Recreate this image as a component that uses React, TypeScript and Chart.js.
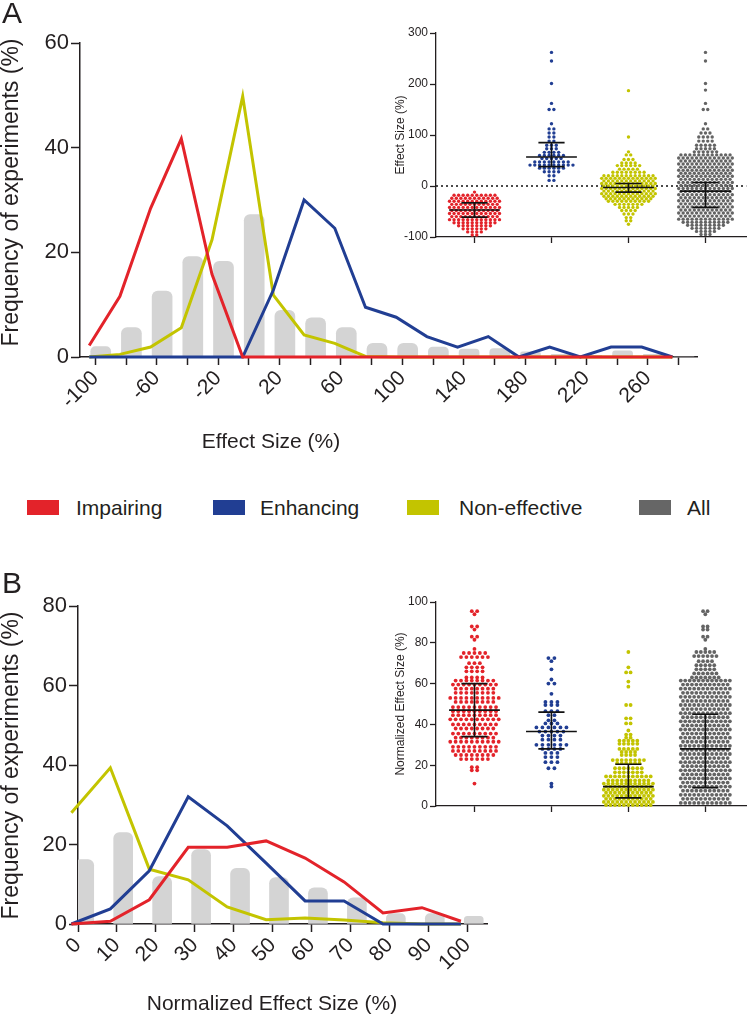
import React, { useEffect, useRef } from "react";
import { Chart, registerables } from "chart.js";

Chart.register(...registerables);

const FONT = "'Liberation Sans', Arial, Helvetica, sans-serif";
const TEXT = "#231f20";
const RED = "#e3232a";
const BLUE = "#213e93";
const YELLOW = "#c3c400";
const GREY_DOT = "#646464";
const GREY_BAR = "#d4d4d4";
const GREY_LEGEND = "#666666";

// ---------- Panel A : histogram of effect size ----------
const binsA = [-100, -80, -60, -40, -20, 0, 20, 40, 60, 80, 100, 120, 140, 160, 180, 200, 220, 240, 260, 280];
const impairingA = [2.2, 11.6, 28.4, 41.7, 15.8, 0, 0, 0, 0, 0, 0, 0, 0, 0, 0, 0, 0, 0, 0, 0];
const enhancingA = [0, 0, 0, 0, 0, 0, 12.8, 30.0, 24.6, 9.5, 7.6, 3.9, 1.9, 3.9, 0, 1.9, 0, 1.9, 1.9, 0];
const nonEffectiveA = [0, 0.5, 1.9, 5.6, 22.4, 49.8, 11.8, 4.2, 2.6, 0.1, 0, 0, 0, 0, 0, 0, 0, 0, 0, 0];
const allA = [2.0, 5.6, 12.6, 19.2, 18.3, 27.2, 8.9, 7.5, 5.6, 2.6, 2.6, 1.9, 1.5, 1.6, 1.0, 0.5, 0.3, 1.2, 0.5, 0];
const xTickLabelsA = [-100, -60, -20, 20, 60, 100, 140, 180, 220, 260];
const yTicksA = [0, 20, 40, 60];

// ---------- Panel B : histogram of normalized effect size ----------
const binsB = [0, 10, 20, 30, 40, 50, 60, 70, 80, 90, 100];
const impairingB = [0, 0.7, 6.1, 19.3, 19.3, 20.9, 16.6, 10.6, 2.8, 4.1, 0.7];
const enhancingB = [0, 3.8, 13.4, 32.0, 24.7, 15.3, 5.8, 5.8, 0, 0, 0];
const nonEffectiveB = [28.0, 39.3, 13.8, 11.1, 4.3, 1.1, 1.5, 1.0, 0.3, 0, 0];
const allB = [16.2, 23.0, 11.9, 18.7, 14.0, 11.7, 9.1, 6.6, 2.6, 2.6, 1.9];
const xTickLabelsB = [0, 10, 20, 30, 40, 50, 60, 70, 80, 90, 100];
const yTicksB = [0, 20, 40, 60, 80];

// ---------- Inset A : effect size per experiment (rows of the swarm: level, count) ----------
const impInsetA_levels = [-12, -18, -24, -30, -36, -42, -48, -54, -60, -66, -72, -78, -84, -90, -96];
const impInsetA_counts = [1, 10, 11, 12, 11, 12, 11, 12, 11, 12, 10, 8, 6, 4, 2];
const enhInsetA_levels = [262, 245, 201, 162, 150, 122, 112, 104, 96, 88, 80, 73, 66, 60, 54, 47, 41, 35, 28, 20, 11];
const enhInsetA_counts = [1, 1, 1, 1, 2, 1, 2, 2, 2, 2, 3, 3, 4, 6, 5, 8, 10, 6, 4, 2, 2];
const nonInsetA_levels = [187, 96, 67, 61, 52, 45, 40, 33, 27, 20, 15, 10, 5, 0, -5, -10, -15, -20, -25, -30, -36, -42, -48, -55, -62, -68, -75];
const nonInsetA_counts = [1, 1, 1, 2, 3, 4, 6, 5, 8, 12, 13, 12, 13, 12, 13, 12, 13, 12, 11, 10, 7, 5, 4, 3, 2, 2, 1];
const allInsetA_levels = [262, 245, 201, 188, 162, 150, 122, 112, 104, 96, 88, 80, 73, 67, 61, 55, 49, 43, 37, 31, 25, 19, 13, 7, 1, -5, -11, -17, -23, -29, -35, -41, -47, -53, -59, -65, -71, -77, -83, -89, -95];
const allInsetA_counts = [1, 1, 1, 1, 1, 2, 1, 2, 3, 4, 4, 5, 5, 6, 12, 13, 12, 13, 12, 13, 12, 13, 12, 13, 12, 13, 12, 13, 12, 13, 12, 13, 12, 13, 12, 13, 11, 9, 7, 5, 3];
const medianInsetA = [-47, 57, -3, -10];
const q1InsetA = [-61, 38, -12, -42];
const q3InsetA = [-33, 85, 5, 7];
const yTicksInsetA = [-100, 0, 100, 200, 300];

// ---------- Inset B : normalized effect size per experiment ----------
const impInsetB_levels = [95.5, 94, 88, 86.5, 83, 81.5, 77, 75, 73, 70, 68, 66, 63, 61.5, 59.5, 57.5, 55.5, 53, 51, 48.5, 46.5, 44.5, 42.5, 40, 38, 35.5, 33.5, 31.5, 29, 27, 25, 23, 19, 17.5, 11];
const impInsetB_counts = [2, 1, 2, 1, 2, 1, 1, 5, 6, 3, 4, 4, 4, 8, 9, 8, 8, 10, 8, 9, 9, 9, 10, 9, 8, 9, 8, 10, 9, 9, 8, 6, 2, 2, 1];
const enhInsetB_levels = [72.5, 71, 67, 62, 60, 55, 51, 49.5, 46.5, 44.5, 42, 40.5, 38.5, 36.5, 34.5, 32.5, 30, 28, 26, 24, 21.5, 18.5, 11, 9.5];
const enhInsetB_counts = [2, 1, 1, 1, 2, 1, 3, 3, 3, 2, 2, 3, 6, 5, 4, 4, 6, 4, 3, 3, 3, 2, 1, 1];
const nonInsetB_levels = [75.5, 68, 65.5, 61, 58.5, 49.5, 43, 40.5, 37, 35, 33.5, 32, 30.5, 28, 26.5, 25, 22.5, 21, 18.5, 16.5, 14.5, 12.5, 11, 9.5, 8, 6.5, 5, 3.5, 2, 0.5];
const nonInsetB_counts = [1, 1, 2, 1, 1, 2, 2, 2, 1, 2, 2, 5, 5, 5, 4, 4, 8, 6, 7, 7, 11, 10, 12, 11, 12, 11, 12, 11, 12, 11];
const allInsetB_levels = [95.5, 94, 88, 86.5, 83, 81.5, 77, 75.5, 73.5, 71, 69, 67, 65, 63, 61.5, 59.5, 57.5, 55.5, 53.5, 51.5, 49.5, 47.5, 45.5, 43.5, 41.5, 39.5, 37.5, 35.5, 33.5, 31.5, 29.5, 27.5, 25.5, 23.5, 21.5, 19.5, 17.5, 15.5, 13.5, 11.5, 9.5, 7.5, 5.5, 3.5, 1.5];
const allInsetB_counts = [2, 1, 2, 2, 2, 1, 1, 5, 6, 4, 5, 5, 6, 7, 12, 11, 12, 11, 12, 11, 12, 11, 12, 11, 12, 11, 12, 11, 12, 11, 12, 11, 12, 11, 12, 11, 12, 11, 12, 11, 12, 11, 12, 11, 12];
const medianInsetB = [47, 36.5, 9.5, 28];
const q1InsetB = [34, 28, 4, 9];
const q3InsetB = [60, 46, 20.5, 45];
const yTicksInsetB = [0, 20, 40, 60, 80, 100];

const groupColors = [RED, BLUE, YELLOW, GREY_DOT];
const legendItems = ["Impairing", "Enhancing", "Non-effective", "All"];
const legendColors = [RED, BLUE, YELLOW, GREY_LEGEND];

// swarm layout: spread each row of equal values horizontally around its category
function swarm(cat: number, levels: number[], counts: number[], dx: number) {
  const pts: { x: number; y: number }[] = [];
  levels.forEach((v, r) => {
    const n = counts[r];
    for (let k = 0; k < n; k++) pts.push({ x: cat + (k - (n - 1) / 2) * dx, y: v });
  });
  return pts;
}

const medianPlugin = (med: number[], q1: number[], q3: number[]) => ({
  id: "medianIQR",
  afterDatasetsDraw(chart: any) {
    const { ctx } = chart;
    const x = chart.scales.x;
    const y = chart.scales.y;
    ctx.save();
    ctx.strokeStyle = "#111";
    ctx.lineWidth = 1.6;
    med.forEach((m: number, i: number) => {
      const c = i + 1;
      const xc = x.getPixelForValue(c);
      const ml = x.getPixelForValue(c - 0.33);
      const mr = x.getPixelForValue(c + 0.33);
      const cl = x.getPixelForValue(c - 0.17);
      const cr = x.getPixelForValue(c + 0.17);
      const ym = y.getPixelForValue(m);
      const y1 = y.getPixelForValue(q1[i]);
      const y3 = y.getPixelForValue(q3[i]);
      ctx.beginPath();
      ctx.moveTo(ml, ym); ctx.lineTo(mr, ym);
      ctx.moveTo(cl, y1); ctx.lineTo(cr, y1);
      ctx.moveTo(cl, y3); ctx.lineTo(cr, y3);
      ctx.moveTo(xc, y1); ctx.lineTo(xc, y3);
      ctx.stroke();
    });
    ctx.restore();
  },
});

const zeroLinePlugin = {
  id: "zeroLine",
  beforeDatasetsDraw(chart: any) {
    const { ctx, chartArea } = chart;
    const yy = chart.scales.y.getPixelForValue(0);
    ctx.save();
    ctx.strokeStyle = "#111";
    ctx.lineWidth = 1.5;
    ctx.setLineDash([2, 3]);
    ctx.beginPath();
    ctx.moveTo(chartArea.left, yy);
    ctx.lineTo(chartArea.right, yy);
    ctx.stroke();
    ctx.restore();
  },
};

type HistProps = {
  top: number; width: number; height: number;
  bins: number[]; imp: number[]; enh: number[]; non: number[]; all: number[];
  xMin: number; xMax: number; yMax: number; xLabels: number[]; yTicks: number[];
  lineShift: number; barShift: number; barWidth: number;
  padTop: number; padRight: number; yAxisWidth: number; xAxisHeight: number;
};

function Histogram(p: HistProps) {
  const ref = useRef<HTMLCanvasElement>(null);
  useEffect(() => {
    const line = (vals: number[], color: string, order: number, label: string) => ({
      type: "line" as const,
      label,
      data: p.bins.map((b, i) => ({ x: b + p.lineShift, y: vals[i] })),
      borderColor: color,
      borderWidth: 3,
      pointRadius: 0,
      tension: 0,
      clip: false,
      order,
    });
    const chart = new Chart(ref.current!, {
      type: "line",
      data: {
        datasets: [
          line(p.imp, RED, 1, "Impairing"),
          line(p.enh, BLUE, 2, "Enhancing"),
          line(p.non, YELLOW, 3, "Non-effective"),
          {
            type: "bar" as const,
            label: "All",
            data: p.bins.map((b, i) => ({ x: b + p.barShift, y: p.all[i] })),
            backgroundColor: GREY_BAR,
            barThickness: p.barWidth,
            borderRadius: { topLeft: 6, topRight: 6, bottomLeft: 0, bottomRight: 0 },
            borderSkipped: false,
            order: 10,
          } as any,
        ],
      },
      options: {
        responsive: false,
        animation: false,
        devicePixelRatio: 1,
        events: [],
        layout: { padding: { top: p.padTop, right: p.padRight, left: 0, bottom: 0 } },
        plugins: { legend: { display: false }, tooltip: { enabled: false } },
        scales: {
          x: {
            type: "linear",
            min: p.xMin,
            max: p.xMax,
            offset: false,
            afterBuildTicks: (s: any) => { s.ticks = p.bins.map((v) => ({ value: v })); },
            afterFit: (s: any) => { s.height = p.xAxisHeight; },
            ticks: {
              autoSkip: false,
              minRotation: 45,
              maxRotation: 45,
              padding: 1,
              color: TEXT,
              font: { family: FONT, size: 21 },
              callback: (v: any) => (p.xLabels.includes(Number(v)) ? String(v) : ""),
            },
            grid: { display: true, drawOnChartArea: false, drawTicks: true, tickLength: 8, tickWidth: 1.5, tickColor: TEXT, offset: false },
            border: { display: true, color: TEXT, width: 1.5 },
          },
          y: {
            type: "linear",
            min: 0,
            max: p.yMax,
            afterBuildTicks: (s: any) => { s.ticks = p.yTicks.map((v) => ({ value: v })); },
            afterFit: (s: any) => { s.width = p.yAxisWidth; },
            ticks: { padding: 2, color: TEXT, font: { family: FONT, size: 22 } },
            grid: { display: true, drawOnChartArea: false, drawTicks: true, tickLength: 9, tickWidth: 1.5, tickColor: TEXT },
            border: { display: true, color: TEXT, width: 1.5 },
          },
        },
      } as any,
    });
    return () => chart.destroy();
  }, []);
  return (
    <canvas
      ref={ref}
      width={p.width}
      height={p.height}
      style={{ position: "absolute", left: 0, top: p.top, width: p.width, height: p.height }}
    />
  );
}

type SwarmProps = {
  left: number; top: number; width: number; height: number;
  groups: { levels: number[]; counts: number[]; dx: number }[];
  med: number[]; q1: number[]; q3: number[]; radius: number;
  yMin: number; yMax: number; yTicks: number[]; title: string; zeroLine: boolean; padTop: number;
};

function Swarm(p: SwarmProps) {
  const ref = useRef<HTMLCanvasElement>(null);
  useEffect(() => {
    const plugins: any[] = [medianPlugin(p.med, p.q1, p.q3)];
    if (p.zeroLine) plugins.unshift(zeroLinePlugin);
    const chart = new Chart(ref.current!, {
      type: "scatter",
      data: {
        datasets: p.groups.map((g, i) => ({
          label: legendItems[i],
          data: swarm(i + 1, g.levels, g.counts, g.dx),
          backgroundColor: groupColors[i],
          pointBackgroundColor: groupColors[i],
          pointRadius: p.radius,
          pointBorderWidth: 0,
          pointHoverRadius: 0,
          clip: false,
        })),
      },
      options: {
        responsive: false,
        animation: false,
        devicePixelRatio: 1,
        events: [],
        layout: { padding: { top: p.padTop, right: 0, left: 0, bottom: 0 } },
        plugins: { legend: { display: false }, tooltip: { enabled: false } },
        scales: {
          x: {
            type: "linear",
            min: 0.5,
            max: 4.53,
            afterBuildTicks: (s: any) => { s.ticks = [1, 2, 3, 4].map((v) => ({ value: v })); },
            afterFit: (s: any) => { s.height = 10; },
            ticks: { display: false },
            grid: { display: true, drawOnChartArea: false, drawTicks: true, tickLength: 6, tickWidth: 1.3, tickColor: TEXT },
            border: { display: true, color: TEXT, width: 1.3 },
          },
          y: {
            type: "linear",
            min: p.yMin,
            max: p.yMax,
            afterBuildTicks: (s: any) => { s.ticks = p.yTicks.map((v) => ({ value: v })); },
            afterFit: (s: any) => { s.width = 76; },
            ticks: { padding: 2, color: TEXT, font: { family: FONT, size: 12 } },
            grid: { display: true, drawOnChartArea: false, drawTicks: true, tickLength: 6, tickWidth: 1.3, tickColor: TEXT },
            border: { display: true, color: TEXT, width: 1.3 },
            title: {
              display: true,
              text: p.title,
              color: TEXT,
              font: { family: FONT, size: 12 },
              padding: { top: 33, bottom: 0 },
            },
          },
        },
      } as any,
      plugins,
    });
    return () => chart.destroy();
  }, []);
  return (
    <canvas
      ref={ref}
      width={p.width}
      height={p.height}
      style={{ position: "absolute", left: p.left, top: p.top, width: p.width, height: p.height }}
    />
  );
}

function Text(props: { x: number; capTop: number; size: number; text: string; center?: boolean }) {
  const { x, capTop, size, text, center } = props;
  const top = capTop - 0.1305 * size;
  const style: React.CSSProperties = {
    position: "absolute",
    top,
    fontSize: size,
    lineHeight: `${size}px`,
    height: size,
    whiteSpace: "nowrap",
    fontFamily: FONT,
    color: TEXT,
  };
  if (center) {
    style.left = x - 300;
    style.width = 600;
    style.textAlign = "center";
  } else {
    style.left = x;
  }
  return <div style={style}>{text}</div>;
}

function VText(props: { cx: number; cy: number; size: number; text: string }) {
  const { cx, cy, size, text } = props;
  return (
    <div
      style={{
        position: "absolute",
        left: cx - 300,
        top: cy - size / 2,
        width: 600,
        height: size,
        lineHeight: `${size}px`,
        fontSize: size,
        textAlign: "center",
        whiteSpace: "nowrap",
        fontFamily: FONT,
        color: TEXT,
        transform: "rotate(-90deg)",
      }}
    >
      {text}
    </div>
  );
}

const legendSwatchX = [27, 213, 407, 639];
const legendTextX = [76, 260, 459, 687];

export default function App() {
  return (
    <div
      style={{
        position: "absolute",
        left: 0,
        top: 0,
        width: 748,
        height: 1019,
        overflow: "hidden",
        background: "#ffffff",
        fontFamily: FONT,
      }}
    >
      <Histogram
        top={0} width={748} height={420}
        bins={binsA} imp={impairingA} enh={enhancingA} non={nonEffectiveA} all={allA}
        xMin={-110} xMax={292} yMax={60} xLabels={xTickLabelsA} yTicks={yTicksA}
        lineShift={-4} barShift={3.5} barWidth={20}
        padTop={43} padRight={51} yAxisWidth={80} xAxisHeight={63}
      />
      <Histogram
        top={560} width={748} height={420}
        bins={binsB} imp={impairingB} enh={enhancingB} non={nonEffectiveB} all={allB}
        xMin={0} xMax={105} yMax={80} xLabels={xTickLabelsB} yTicks={yTicksB}
        lineShift={-1.7} barShift={1.6} barWidth={19}
        padTop={46} padRight={261} yAxisWidth={78} xAxisHeight={56}
      />
      <Swarm
        left={360} top={0} width={388} height={247} radius={1.7}
        groups={[
          { levels: impInsetA_levels, counts: impInsetA_counts, dx: 0.059 },
          { levels: enhInsetA_levels, counts: enhInsetA_counts, dx: 0.062 },
          { levels: nonInsetA_levels, counts: nonInsetA_counts, dx: 0.058 },
          { levels: allInsetA_levels, counts: allInsetA_counts, dx: 0.058 },
        ]}
        med={medianInsetA} q1={q1InsetA} q3={q3InsetA}
        yMin={-100} yMax={300} yTicks={yTicksInsetA} title="Effect Size (%)" zeroLine={true} padTop={33}
      />
      <Swarm
        left={360} top={560} width={388} height={256} radius={1.9}
        groups={[
          { levels: impInsetB_levels, counts: impInsetB_counts, dx: 0.07 },
          { levels: enhInsetB_levels, counts: enhInsetB_counts, dx: 0.078 },
          { levels: nonInsetB_levels, counts: nonInsetB_counts, dx: 0.058 },
          { levels: allInsetB_levels, counts: allInsetB_counts, dx: 0.058 },
        ]}
        med={medianInsetB} q1={q1InsetB} q3={q3InsetB}
        yMin={0} yMax={100} yTicks={yTicksInsetB} title="Normalized Effect Size (%)" zeroLine={false} padTop={42}
      />

      <Text x={2} capTop={2} size={30} text="A" />
      <Text x={2} capTop={572} size={30} text="B" />

      <VText cx={10} cy={192} size={23} text="Frequency of experiments (%)" />
      <VText cx={10} cy={765} size={23} text="Frequency of experiments (%)" />

      <Text x={271} capTop={433} size={21} text="Effect Size (%)" center />
      <Text x={272} capTop={995} size={21} text="Normalized Effect Size (%)" center />

      {legendItems.map((name, i) => (
        <React.Fragment key={name}>
          <div
            style={{
              position: "absolute",
              left: legendSwatchX[i],
              top: 500,
              width: 32,
              height: 15,
              background: legendColors[i],
            }}
          />
          <Text x={legendTextX[i]} capTop={500} size={21} text={name} />
        </React.Fragment>
      ))}
    </div>
  );
}
